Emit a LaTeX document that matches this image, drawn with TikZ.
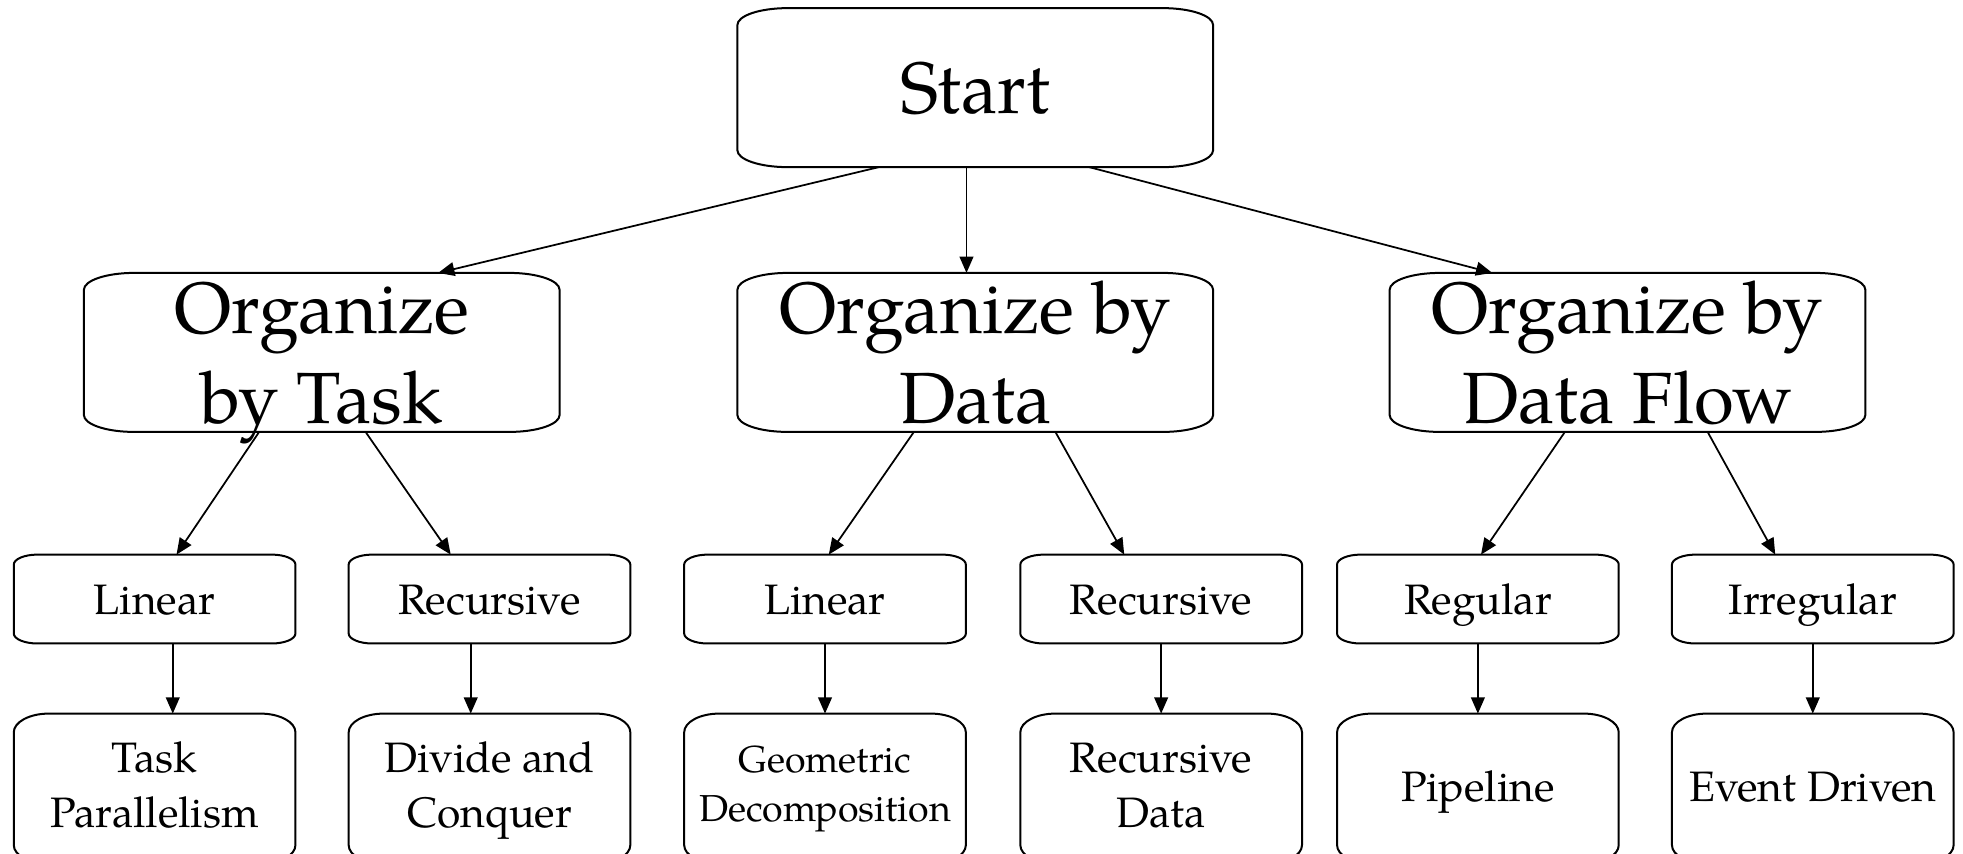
\documentclass[tikz,border=0pt]{standalone}
\usepackage{fontspec}
\setmainfont{texgyrepagella}[Extension=.otf,UprightFont=*-regular,BoldFont=*-bold,ItalicFont=*-italic,BoldItalicFont=*-bolditalic]
\usetikzlibrary{arrows.meta}
% text block: first baseline fixed, height/depth given
\newcommand\boxtext[3]{\raisebox{0pt}[#1][#2]{\vtop{\halign{\hfil##\hfil\cr#3\crcr}}}}
% outline with elliptic corners round a named node
\newcommand\ebox[3]{\draw[boxline] ([xshift=#2]#1.north west) -- ([xshift=-#2]#1.north east)
  arc[start angle=90,end angle=0,x radius=#2,y radius=#3] -- ([yshift=#3]#1.south east)
  arc[start angle=0,end angle=-90,x radius=#2,y radius=#3] -- ([xshift=#2]#1.south west)
  arc[start angle=270,end angle=180,x radius=#2,y radius=#3] -- ([yshift=-#3]#1.north west)
  arc[start angle=180,end angle=90,x radius=#2,y radius=#3] -- cycle;}
\begin{document}
\begin{tikzpicture}[x=0.5pt,y=0.5pt,
  shell/.style={inner sep=0pt, outer sep=0pt},
  big/.style={shell, minimum width=190pt, minimum height=63.5pt, font=\fontsize{29}{36}\selectfont},
  mid/.style={shell, minimum width=112.5pt, minimum height=35.5pt, font=\fontsize{17}{21}\selectfont},
  leaf/.style={shell, minimum width=112.5pt, minimum height=60pt, font=\fontsize{17}{22}\selectfont},
  smallleaf/.style={leaf, font=\fontsize{15}{19.5}\selectfont},
  boxline/.style={draw=black, line width=0.8pt},
  link/.style={draw=black, line width=0.7pt, -{Triangle[length=6.5pt,width=5.5pt]}}
]
\useasboundingbox (0,0) rectangle (1568,681.4);
\clip (0,0) rectangle (1568,681.4);

% level 1
\node[big] (start) at (779,611.4) {\boxtext{20.5pt}{0pt}{Start}};
% level 2
\node[big] (task) at (257,399.9) {\boxtext{0pt}{15.5pt}{Organize\cr by Task}};
\node[big] (data) at (779,399.9) {\boxtext{0pt}{15.5pt}{Organize by\cr Data}};
\node[big] (flow) at (1300,399.9) {\boxtext{0pt}{15.5pt}{Organize by\cr Data Flow}};
% level 3
\node[mid] (lin1) at (123.5,202.9) {\boxtext{12.5pt}{0pt}{Linear}};
\node[mid] (rec1) at (391,202.9) {\boxtext{12.5pt}{0pt}{Recursive}};
\node[mid] (lin2) at (659,202.9) {\boxtext{12.5pt}{0pt}{Linear}};
\node[mid] (rec2) at (927.5,202.9) {\boxtext{12.5pt}{0pt}{Recursive}};
\node[mid] (reg) at (1180.5,202.9) {\boxtext{12.5pt}{0pt}{Regular}};
\node[mid] (irr) at (1448,202.9) {\boxtext{12.5pt}{0pt}{Irregular}};
% level 4
\node[leaf] (tp) at (123.5,51.4) {\boxtext{0pt}{13pt}{Task\cr Parallelism}};
\node[leaf] (dc) at (391,51.4) {\boxtext{0pt}{13pt}{Divide and\cr Conquer}};
\node[smallleaf] (gd) at (659,51.4) {\boxtext{0pt}{13pt}{Geometric\cr Decomposition}};
\node[leaf] (rd) at (927.5,51.4) {\boxtext{0pt}{13pt}{Recursive\cr Data}};
\node[leaf] (pl) at (1180.5,51.4) {\boxtext{10pt}{0pt}{Pipeline}};
\node[leaf] (ed) at (1448,51.4) {\boxtext{10pt}{0pt}{Event Driven}};

% outlines
\ebox{start}{20pt}{6.75pt}
\ebox{task}{20pt}{6.75pt}
\ebox{data}{20pt}{6.75pt}
\ebox{flow}{20pt}{6.75pt}
\ebox{lin1}{9.5pt}{4pt}
\ebox{rec1}{9.5pt}{4pt}
\ebox{lin2}{9.5pt}{4pt}
\ebox{rec2}{9.5pt}{4pt}
\ebox{reg}{9.5pt}{4pt}
\ebox{irr}{9.5pt}{4pt}
\ebox{tp}{14pt}{7.5pt}
\ebox{dc}{14pt}{7.5pt}
\ebox{gd}{14pt}{7.5pt}
\ebox{rd}{14pt}{7.5pt}
\ebox{pl}{14pt}{7.5pt}
\ebox{ed}{14pt}{7.5pt}

% connectors
\draw[link] ([xshift=-38.5pt]start.south) -- ([xshift=46.5pt]task.north);
\draw[link] ([xshift=-3.5pt]start.south) -- ([xshift=-3.5pt]data.north);
\draw[link] ([xshift=45.5pt]start.south) -- ([xshift=-54pt]flow.north);

\draw[link] ([xshift=-25pt]task.south) -- ([xshift=8.75pt]lin1.north);
\draw[link] ([xshift=17.5pt]task.south) -- ([xshift=-15.5pt]rec1.north);
\draw[link] ([xshift=-24.5pt]data.south) -- ([xshift=1.5pt]lin2.north);
\draw[link] ([xshift=32pt]data.south) -- ([xshift=-14.75pt]rec2.north);
\draw[link] ([xshift=-25pt]flow.south) -- ([xshift=1.25pt]reg.north);
\draw[link] ([xshift=32pt]flow.south) -- ([xshift=-15pt]irr.north);

\draw[link] ([xshift=7.25pt]lin1.south) -- ([xshift=7.25pt]tp.north);
\draw[link] ([xshift=-7.5pt]rec1.south) -- ([xshift=-7.5pt]dc.north);
\draw[link] (lin2.south) -- (gd.north);
\draw[link] (rec2.south) -- (rd.north);
\draw[link] (reg.south) -- (pl.north);
\draw[link] (irr.south) -- (ed.north);
\end{tikzpicture}
\end{document}
